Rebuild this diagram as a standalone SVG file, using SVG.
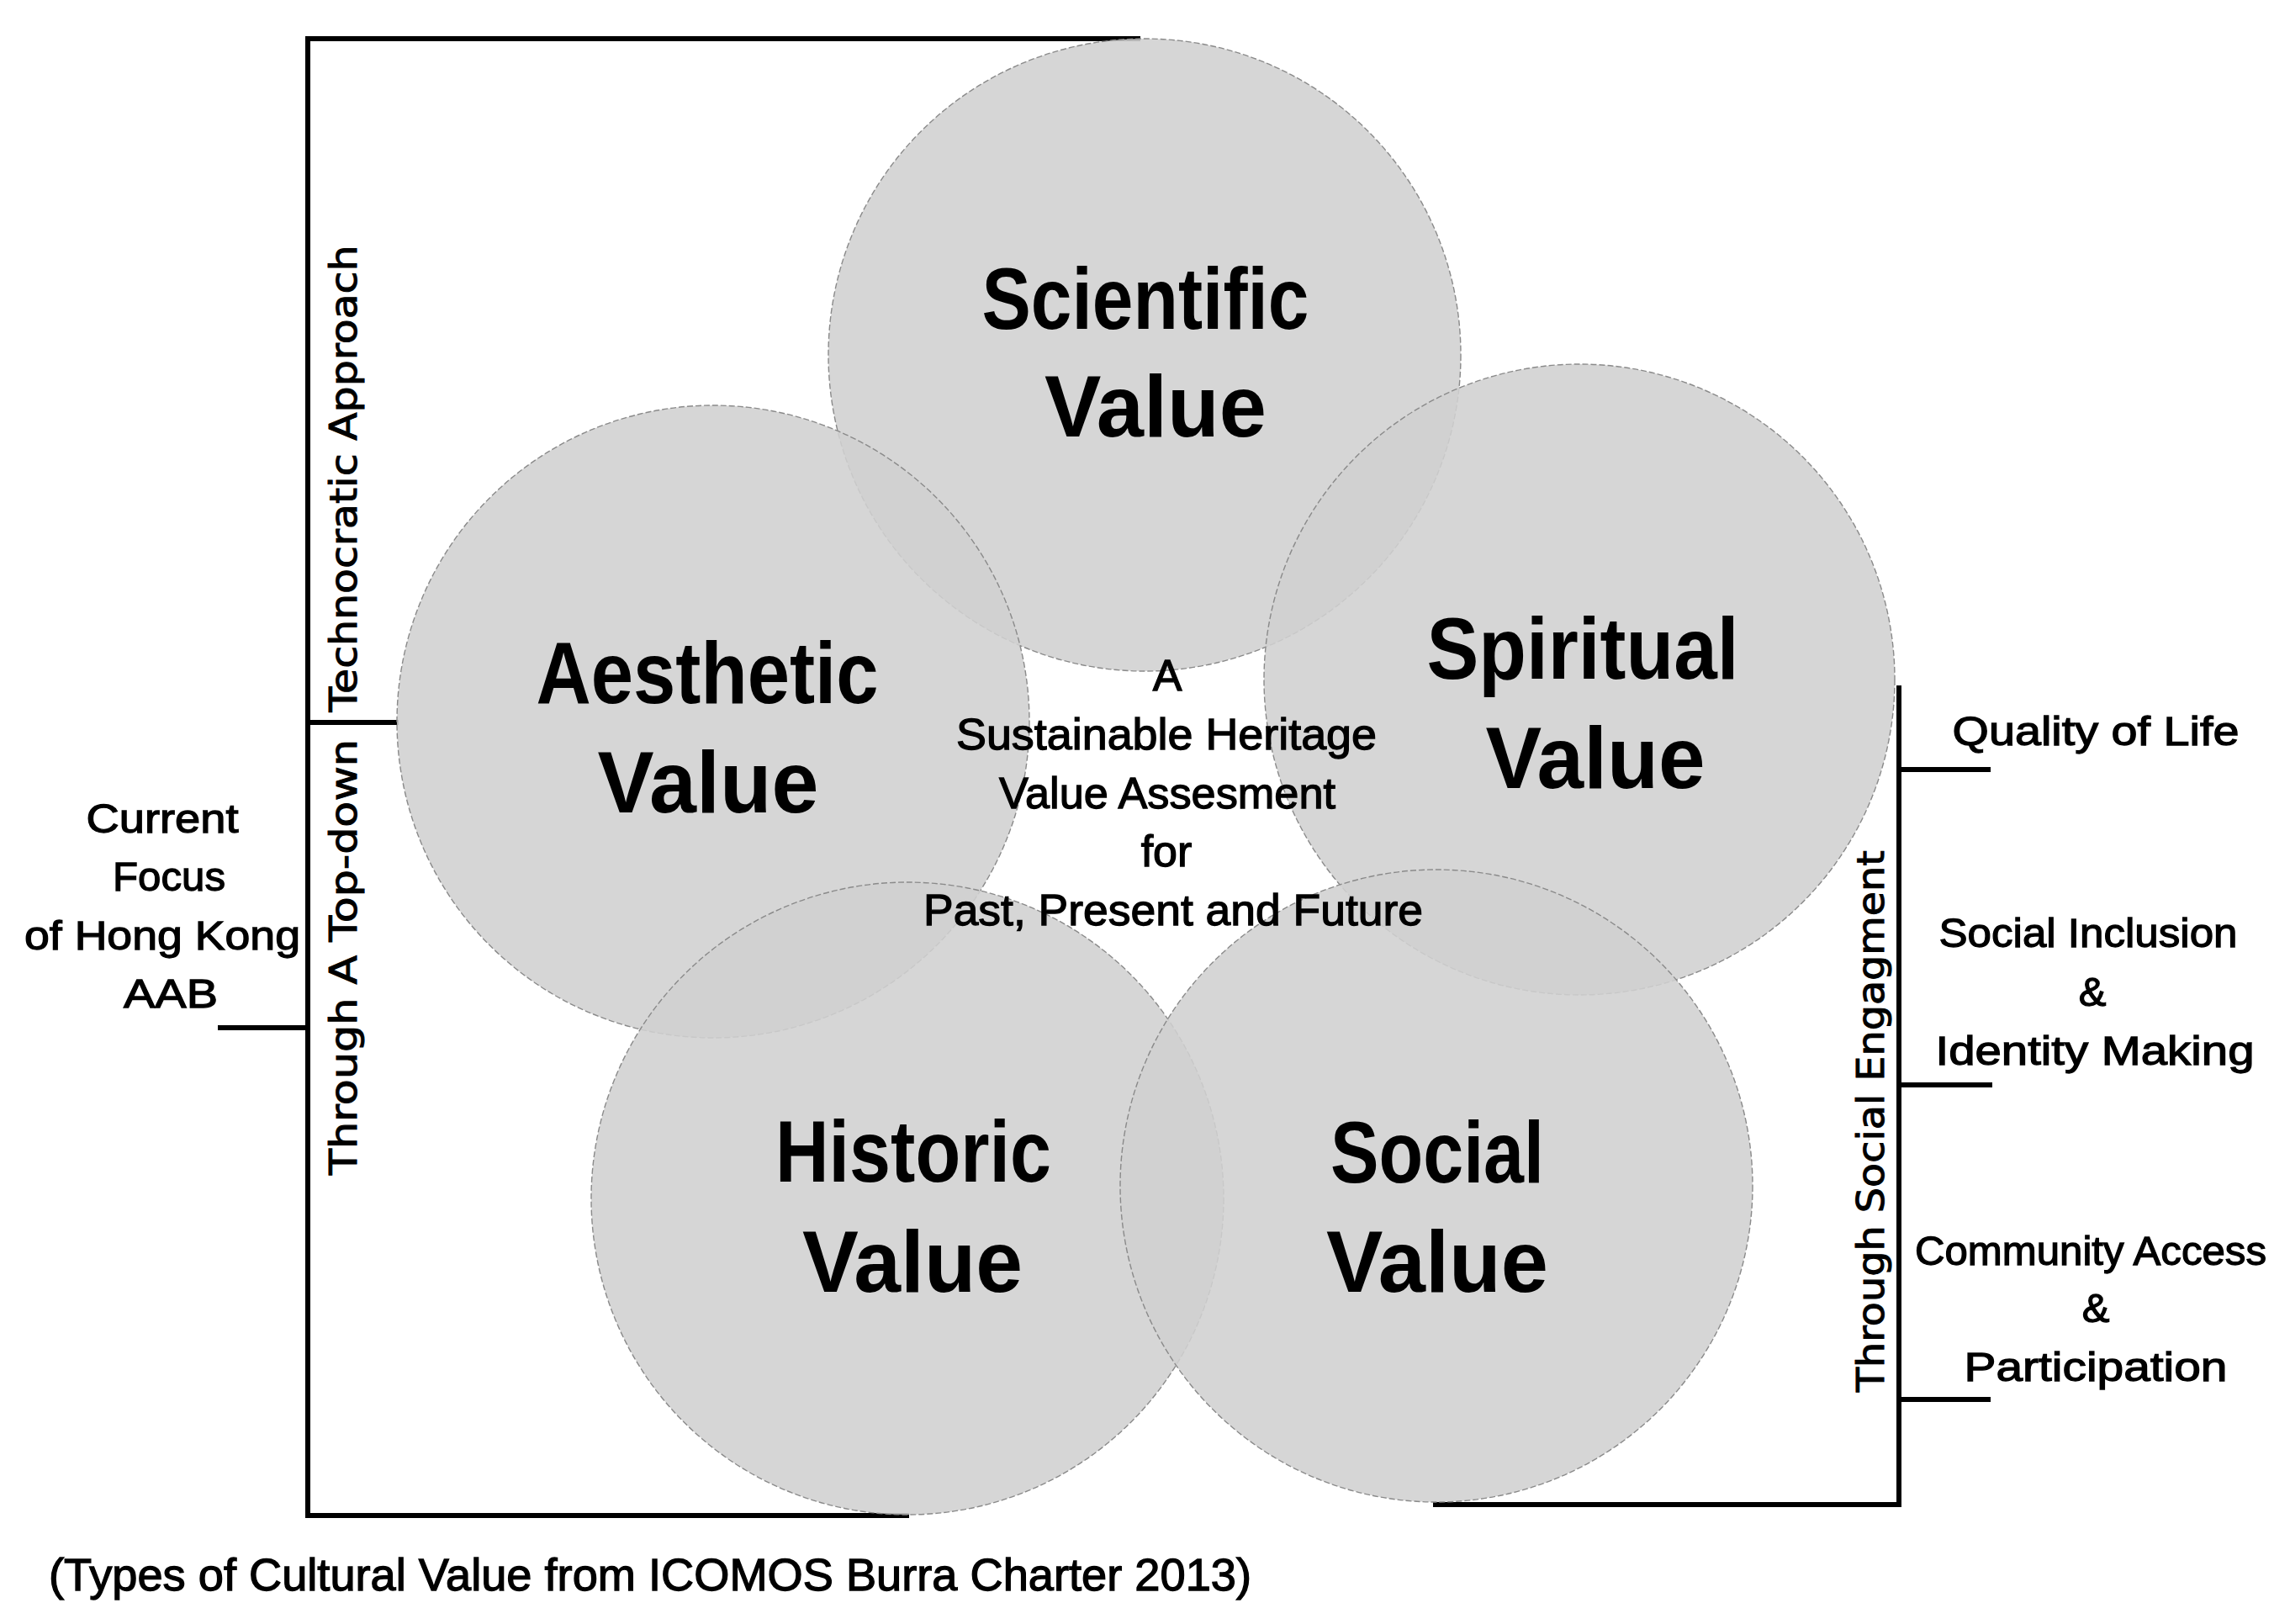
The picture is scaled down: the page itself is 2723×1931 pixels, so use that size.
<svg xmlns="http://www.w3.org/2000/svg" width="2723" height="1931" viewBox="0 0 2723 1931">
<style>
.bg{fill:#ffffff}
.c{fill:#d0d0d0;fill-opacity:0.88;stroke:#8a8a8a;stroke-width:1.4;stroke-dasharray:7 3}
.big{font-family:"Liberation Sans","Noto Sans",sans-serif;font-weight:bold;font-size:104px;fill:#000;text-anchor:middle}
.mid{font-family:"Liberation Sans","Noto Sans",sans-serif;font-size:52px;fill:#000;stroke:#000;stroke-width:1.3;text-anchor:middle}
.sm{font-family:"Liberation Sans","Noto Sans",sans-serif;font-size:49px;fill:#000;stroke:#000;stroke-width:1.3;text-anchor:middle}
.rot{font-family:"DejaVu Sans","Liberation Sans",sans-serif;font-size:44px;fill:#000;stroke:#000;stroke-width:1;text-anchor:middle}
.cap{font-family:"Liberation Sans","Noto Sans",sans-serif;font-size:53px;fill:#000;stroke:#000;stroke-width:1.3}
.ln{stroke:#000;stroke-width:6;fill:none;stroke-linecap:square}
</style>
<rect class="bg" x="0" y="0" width="2723" height="1931"/>
<g id="connectors">
<polyline class="ln" points="1353,46 366,46 366,1802 1078,1802"/>
<line class="ln" x1="366" y1="859" x2="471" y2="859"/>
<line class="ln" x1="262" y1="1222" x2="366" y2="1222"/>
<polyline class="ln" points="2258,818 2258,1789 1707,1789"/>
<line class="ln" x1="2258" y1="915" x2="2364" y2="915"/>
<line class="ln" x1="2258" y1="1290" x2="2366" y2="1290"/>
<line class="ln" x1="2258" y1="1664" x2="2364" y2="1664"/>
</g>
<g id="scientific">
<circle class="c" cx="1361" cy="422" r="376"/>
<text class="big" x="1362" y="391" textLength="389" lengthAdjust="spacingAndGlyphs">Scientific</text>
<text class="big" x="1374" y="519" textLength="264" lengthAdjust="spacingAndGlyphs">Value</text>
</g>
<g id="aesthetic">
<circle class="c" cx="848" cy="858" r="376"/>
<text class="big" x="841" y="836" textLength="407" lengthAdjust="spacingAndGlyphs">Aesthetic</text>
<text class="big" x="842" y="966" textLength="263" lengthAdjust="spacingAndGlyphs">Value</text>
</g>
<g id="spiritual">
<circle class="c" cx="1878" cy="808" r="375"/>
<text class="big" x="1882" y="807" textLength="371" lengthAdjust="spacingAndGlyphs">Spiritual</text>
<text class="big" x="1897" y="937" textLength="261" lengthAdjust="spacingAndGlyphs">Value</text>
</g>
<g id="historic">
<circle class="c" cx="1079" cy="1425" r="376"/>
<text class="big" x="1086" y="1405" textLength="328" lengthAdjust="spacingAndGlyphs">Historic</text>
<text class="big" x="1085" y="1536" textLength="262" lengthAdjust="spacingAndGlyphs">Value</text>
</g>
<g id="social">
<circle class="c" cx="1708" cy="1410" r="376"/>
<text class="big" x="1709" y="1406" textLength="254" lengthAdjust="spacingAndGlyphs">Social</text>
<text class="big" x="1709" y="1536" textLength="264" lengthAdjust="spacingAndGlyphs">Value</text>
</g>
<g id="center-label">
<text class="mid" x="1388" y="821">A</text>
<text class="mid" x="1387" y="891" textLength="500" lengthAdjust="spacingAndGlyphs">Sustainable Heritage</text>
<text class="mid" x="1388" y="961" textLength="400" lengthAdjust="spacingAndGlyphs">Value Assesment</text>
<text class="mid" x="1387" y="1030">for</text>
<text class="mid" x="1395" y="1100" textLength="594" lengthAdjust="spacingAndGlyphs">Past, Present and Future</text>
</g>
<g id="left-approach">
<text class="rot" transform="translate(424,569) rotate(-90)" textLength="555" lengthAdjust="spacingAndGlyphs">Technocratic Approach</text>
<text class="rot" transform="translate(424,1138) rotate(-90)" textLength="518" lengthAdjust="spacingAndGlyphs">Through A Top-down</text>
</g>
<g id="current-focus">
<text class="sm" x="193" y="990" textLength="181" lengthAdjust="spacingAndGlyphs">Current</text>
<text class="sm" x="201" y="1059" textLength="134" lengthAdjust="spacingAndGlyphs">Focus</text>
<text class="sm" x="193" y="1129" textLength="328" lengthAdjust="spacingAndGlyphs">of Hong Kong</text>
<text class="sm" x="203" y="1198" textLength="112" lengthAdjust="spacingAndGlyphs">AAB</text>
</g>
<g id="social-engagement">
<text class="rot" transform="translate(2240,1333) rotate(-90)" textLength="644" lengthAdjust="spacingAndGlyphs">Through Social Engagment</text>
</g>
<g id="quality-of-life">
<text class="sm" x="2492" y="886" textLength="341" lengthAdjust="spacingAndGlyphs">Quality of Life</text>
</g>
<g id="social-inclusion">
<text class="sm" x="2483" y="1126" textLength="355" lengthAdjust="spacingAndGlyphs">Social Inclusion</text>
<text class="sm" x="2488" y="1196">&amp;</text>
<text class="sm" x="2491" y="1266" textLength="379" lengthAdjust="spacingAndGlyphs">Identity Making</text>
</g>
<g id="community-access">
<text class="sm" x="2486" y="1504" textLength="418" lengthAdjust="spacingAndGlyphs">Community Access</text>
<text class="sm" x="2492" y="1572">&amp;</text>
<text class="sm" x="2492" y="1642" textLength="313" lengthAdjust="spacingAndGlyphs">Participation</text>
</g>
<g id="caption">
<text class="cap" x="58" y="1891" textLength="1430" lengthAdjust="spacingAndGlyphs">(Types of Cultural Value from ICOMOS Burra Charter 2013)</text>
</g>
</svg>
